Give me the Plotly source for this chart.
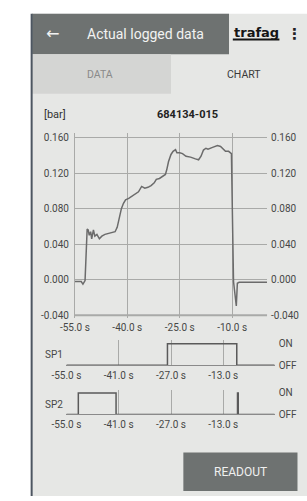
import plotly.graph_objects as go

# ---------------- data ----------------
main_time = [-55.0, -53.2, -52.7, -52.1, -51.5, -51.2, -50.9, -50.5, -50.2, -49.7, -49.3,
             -48.7, -48.0, -47.3, -46.4, -45.5, -44.6, -43.5, -42.9, -42.3, -41.7, -41.1,
             -40.5, -39.6, -38.7, -37.8, -36.8, -35.9, -35.0, -34.1, -33.2, -32.3, -31.7,
             -30.8, -29.9, -29.1, -28.7, -28.2, -27.5, -26.9, -26.2, -25.8, -25.0, -24.2,
             -23.2, -21.9, -20.5, -19.6, -18.9, -18.2, -17.5, -16.9, -15.6, -14.2, -13.3,
             -12.6, -11.9, -11.0, -10.2, -9.6, -8.8, -8.5, -8.0, 0.0]
main_bar = [-0.002, -0.002, -0.005, -0.001, 0.057, 0.056, 0.050, 0.054, 0.046, 0.056, 0.049,
            0.051, 0.046, 0.049, 0.051, 0.052, 0.053, 0.054, 0.059, 0.070, 0.080, 0.086,
            0.090, 0.0915, 0.094, 0.096, 0.099, 0.105, 0.103, 0.104, 0.106, 0.109, 0.113,
            0.114, 0.116, 0.1185, 0.124, 0.133, 0.141, 0.1445, 0.1465, 0.143, 0.143, 0.142,
            0.139, 0.138, 0.136, 0.135, 0.139, 0.146, 0.148, 0.147, 0.149, 0.151, 0.150,
            0.147, 0.1445, 0.1445, 0.142, -0.002, -0.0296, -0.004, -0.003, -0.003]

sp1_time = [-55.0, -27.95, -27.95, -9.4, -9.4, 0.74]
sp1_state = [0, 0, 1, 1, 0, 0]
sp2_time = [-55.0, -51.8, -51.8, -41.7, -41.7, -9.2, -9.2, -9.0, -9.0, 0.74]
sp2_state = [0, 0, 1, 1, 0, 0, 1, 1, 0, 0]

main_xticks = [-55, -40, -25, -10]
main_xlabels = ["-55.0 s", "-40.0 s", "-25.0 s", "-10.0 s"]
main_yticks = [-0.04, 0.0, 0.04, 0.08, 0.12, 0.16]
main_ylabels = ["-0.040", "0.000", "0.040", "0.080", "0.120", "0.160"]
sp_xticks = [-55, -41, -27, -13]
sp_xlabels = ["-55.0 s", "-41.0 s", "-27.0 s", "-13.0 s"]
sp_yticks = [0, 1]
sp_ylabels = ["OFF", "ON"]

# ---------------- layout helpers ----------------
W, H = 307, 501
def X(px): return px / W
def Y(py): return 1 - py / H

BG = "#e6e7e5"
GRID = "#a9aaa8"
TXT = "#474747"
LINE = "#6b6b6b"
FONT = "Roboto"

fig = go.Figure()

fig.add_trace(go.Scatter(x=main_time, y=main_bar, mode="lines", xaxis="x", yaxis="y",
                         line=dict(color=LINE, width=1.5), hoverinfo="skip", showlegend=False))
fig.add_trace(go.Scatter(x=main_time, y=main_bar, mode="lines", xaxis="x", yaxis="y2",
                         line=dict(color=LINE, width=0), opacity=0, hoverinfo="skip", showlegend=False))
fig.add_trace(go.Scatter(x=sp1_time, y=sp1_state, mode="lines", xaxis="x2", yaxis="y3",
                         line=dict(color="#5a5a5a", width=1.5), hoverinfo="skip", showlegend=False))
fig.add_trace(go.Scatter(x=sp2_time, y=sp2_state, mode="lines", xaxis="x3", yaxis="y4",
                         line=dict(color="#5a5a5a", width=1.5), hoverinfo="skip", showlegend=False))

tickfont = dict(family=FONT, size=10, color=TXT)

main_xdom = [X(63), X(265)]
sp_xdom = [X(54), X(273)]

fig.update_layout(
    width=W, height=H,
    margin=dict(l=0, r=0, t=0, b=0, pad=0),
    paper_bgcolor="white",
    plot_bgcolor="rgba(0,0,0,0)",
    showlegend=False,
    xaxis=dict(domain=main_xdom, anchor="y", range=[-55, 0], tickvals=main_xticks,
               ticktext=main_xlabels, showgrid=True, gridcolor=GRID, gridwidth=1,
               zeroline=False, showline=False, ticks="", tickfont=tickfont,
               ticklabelstandoff=2, fixedrange=True),
    yaxis=dict(domain=[Y(320), Y(133)], anchor="x", range=[-0.0426, 0.165],
               tickvals=main_yticks, ticktext=main_ylabels, showgrid=True, gridcolor=GRID,
               gridwidth=1, zeroline=False, showline=True, linecolor=GRID, linewidth=1,
               ticks="", tickfont=tickfont, ticklabelstandoff=3, fixedrange=True),
    yaxis2=dict(overlaying="y", side="right", anchor="x", range=[-0.0426, 0.165],
                tickvals=main_yticks, ticktext=main_ylabels, showgrid=False, zeroline=False,
                showline=False, ticks="", tickfont=tickfont, ticklabelstandoff=3, fixedrange=True),
    xaxis2=dict(domain=sp_xdom, anchor="y3", range=[-55, 0.74], tickvals=sp_xticks,
                ticktext=sp_xlabels, showgrid=True, gridcolor=GRID, gridwidth=1, zeroline=False,
                showline=True, linecolor="#8a8a8a", linewidth=1, ticks="", tickfont=tickfont,
                ticklabelstandoff=1, fixedrange=True),
    yaxis3=dict(domain=[Y(368.3), Y(343)], anchor="x2", side="right", range=[0, 1.16],
                tickvals=sp_yticks, ticktext=sp_ylabels, showgrid=False, zeroline=False,
                showline=False, ticks="", tickfont=tickfont, ticklabelstandoff=3, fixedrange=True),
    xaxis3=dict(domain=sp_xdom, anchor="y4", range=[-55, 0.74], tickvals=sp_xticks,
                ticktext=sp_xlabels, showgrid=True, gridcolor=GRID, gridwidth=1, zeroline=False,
                showline=True, linecolor="#8a8a8a", linewidth=1, ticks="", tickfont=tickfont,
                ticklabelstandoff=1, fixedrange=True),
    yaxis4=dict(domain=[Y(418.3), Y(393)], anchor="x3", side="right", range=[0, 1.16],
                tickvals=sp_yticks, ticktext=sp_ylabels, showgrid=False, zeroline=False,
                showline=False, ticks="", tickfont=tickfont, ticklabelstandoff=3, fixedrange=True),
)

shapes = []
def rect(x0, y0, x1, y1, color):
    shapes.append(dict(type="rect", xref="paper", yref="paper", x0=X(x0), x1=X(x1),
                       y0=Y(y1), y1=Y(y0), fillcolor=color, line=dict(width=0), layer="below"))

rect(18, 12, 307, 501, BG)            # app content background
rect(18, 12, 225, 53, "#6e7271")      # header bar
rect(18, 53, 164, 93, "#d4d5d3")      # DATA tab
rect(177, 457, 297, 496, "#6e7271")   # READOUT button
# left device border
shapes.append(dict(type="line", xref="paper", yref="paper", x0=X(17.5), x1=X(17.5),
                   y0=Y(501), y1=Y(12), line=dict(color="#4d5661", width=2), layer="below"))
# logo underline
shapes.append(dict(type="line", xref="paper", yref="paper", x0=X(229), x1=X(278),
                   y0=Y(38), y1=Y(38), line=dict(color="#151515", width=2)))
# heavier bottom line of the main chart
shapes.append(dict(type="line", xref="x domain", yref="y", x0=0, x1=1, y0=-0.04, y1=-0.04,
                   line=dict(color=GRID, width=2), layer="below"))
fig.update_layout(shapes=shapes)

def ann(text, x, y, size, color, family=FONT, xanchor="center"):
    fig.add_annotation(text=text, x=X(x), y=Y(y), xref="paper", yref="paper",
                       showarrow=False, xanchor=xanchor, yanchor="middle",
                       font=dict(family=family, size=size, color=color))

ann("←", 39, 32, 16, "#f2f2f2", family="DejaVu Sans")
ann("Actual logged data", 137, 32, 14, "#f2f2f2")
ann("<b>trafag</b>", 253.5, 31, 13, "#151515", family="DejaVu Sans")
ann("<b>⋮</b>", 294, 32, 15, "#222222", family="DejaVu Sans")
ann("DATA", 89, 74, 10.5, "#8a8a8a")
ann("CHART", 241, 74, 10.5, "#3a3a3a")
ann("[bar]", 42.5, 114, 11, "#333333")
ann("<b>684134-015</b>", 181, 114, 11, "#222222")
ann("SP1", 41, 358, 10, TXT)
ann("SP2", 41, 408, 10, TXT)
ann("READOUT", 237, 476.5, 12, "#f0f0f0")

# remove the default page margin so the figure fills the window exactly
fig.write_html("out.html", config={"displayModeBar": False},
               post_script="document.body.style.margin='0';document.body.style.overflow='hidden';")
